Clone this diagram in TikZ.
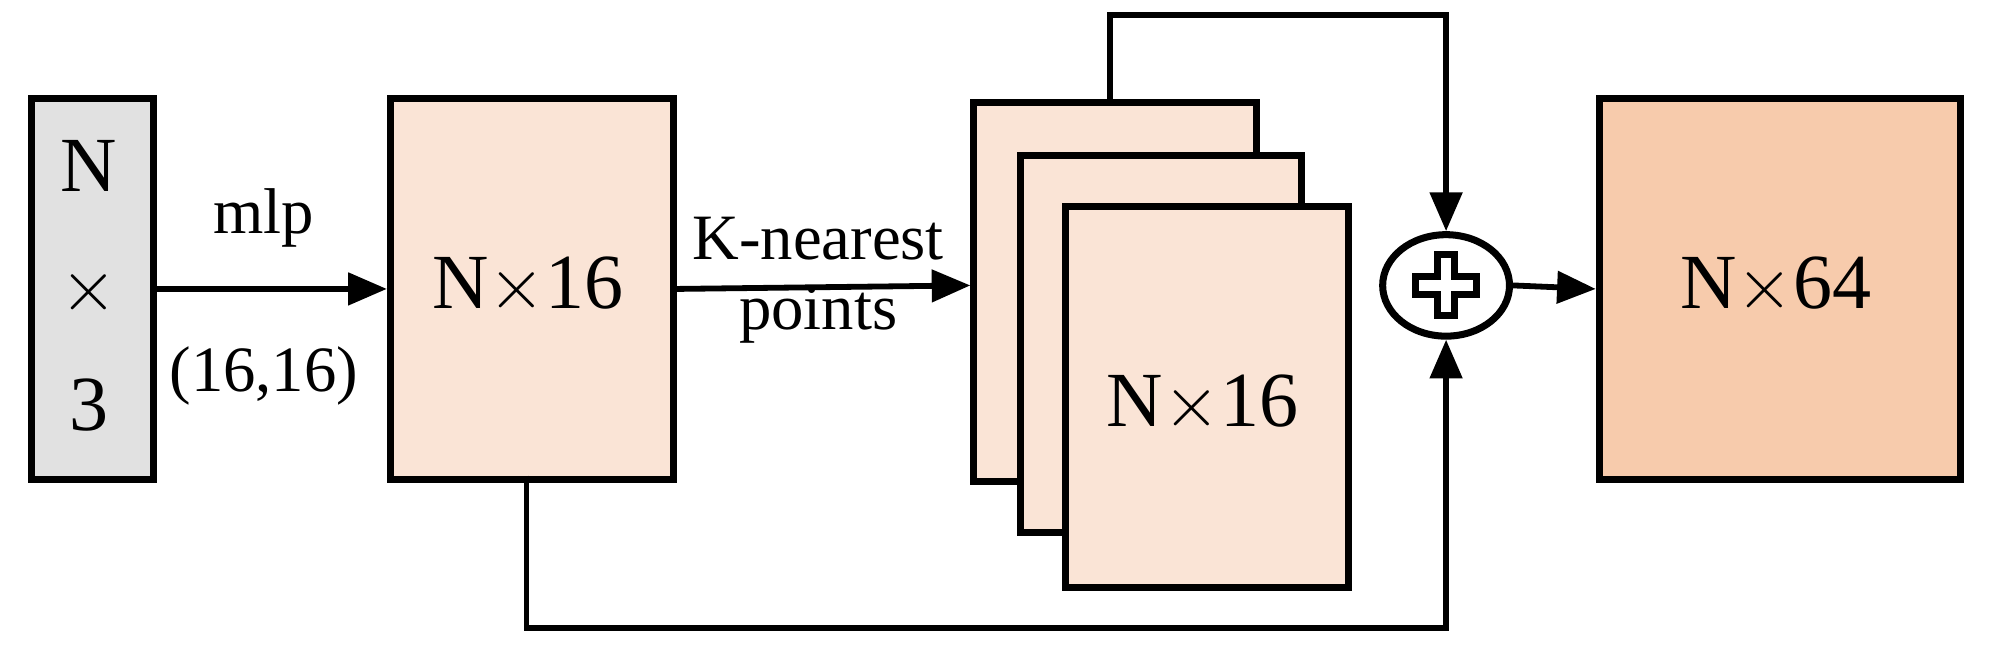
\documentclass[tikz,border=0pt]{standalone}
\usepackage{fontspec}
\setmainfont{Liberation Serif}
\usetikzlibrary{shapes.geometric,arrows.meta}
\definecolor{grayfill}{RGB}{225,225,225}
\definecolor{peach}{RGB}{250,228,214}
\definecolor{peachdark}{RGB}{247,203,172}
\newlength{\uu}\setlength{\uu}{0.012685cm}
\begin{document}
\begin{tikzpicture}[x=\uu,y=-\uu,
  box/.style={draw,line width=2pt,anchor=north west,inner sep=0pt},
  big/.style={font=\fontsize{22.2}{26}\selectfont},
  lab/.style={font=\fontsize{18.4}{22}\selectfont},
  arr/.style={line width=1.65pt,-{Triangle[length=11pt,width=9pt]}}]
\useasboundingbox (0,0) rectangle (1568,513);
\node[box,fill=grayfill,minimum width=96\uu,minimum height=300\uu] (in) at (22,75) {};
\node[big,align=center] (intxt) at (70,225) {N\\[8pt]$\times$\\[8pt]3};
\node[box,fill=peach,minimum width=223\uu,minimum height=300\uu] (f1) at (305,75) {};
\node[big] (t1txt) at (416,225) {N$\times$16};
\node[box,fill=peach,minimum width=223\uu,minimum height=299\uu] (b1) at (765,78) {};
\node[box,fill=peach,minimum width=221\uu,minimum height=297\uu] (b2) at (802,120) {};
\node[box,fill=peach,minimum width=223\uu,minimum height=300\uu] (b3) at (837,160) {};
\node[big] (t3txt) at (948,318) {N$\times$16};
\node[draw,ellipse,line width=2pt,minimum width=100\uu,minimum height=80\uu,inner sep=0pt] (sum) at (1140,225) {};
\draw[line width=2pt] (1133,201)--(1147,201)--(1147,218)--(1164,218)--(1164,232)--(1147,232)--(1147,249)--(1133,249)--(1133,232)--(1116,232)--(1116,218)--(1133,218)--cycle;
\node[box,fill=peachdark,minimum width=285\uu,minimum height=300\uu] (out) at (1258,75) {};
\node[big] (otxt) at (1400,225) {N$\times$64};
\draw[arr] (in.east) -- (f1.west);
\node[lab] (mlp) at (208,172) {mlp};
\node[lab] (par) at (208,296) {(16,16)};
\draw[arr] (f1.east) -- (765,225);
\node[lab] (kn) at (645,188) {K-nearest};
\node[lab] (pts) at (645,248) {points};
\coordinate (t1) at (875,12);
\coordinate (t2) at (1140,12);
\draw[arr] (875,78) -- (t1) -- (t2) -- (sum.north);
\coordinate (u1) at (415,495);
\coordinate (u2) at (1140,495);
\draw[arr] (415,375) -- (u1) -- (u2) -- (sum.south);
\draw[arr] (sum.east) -- (out.west);
\end{tikzpicture}
\end{document}
